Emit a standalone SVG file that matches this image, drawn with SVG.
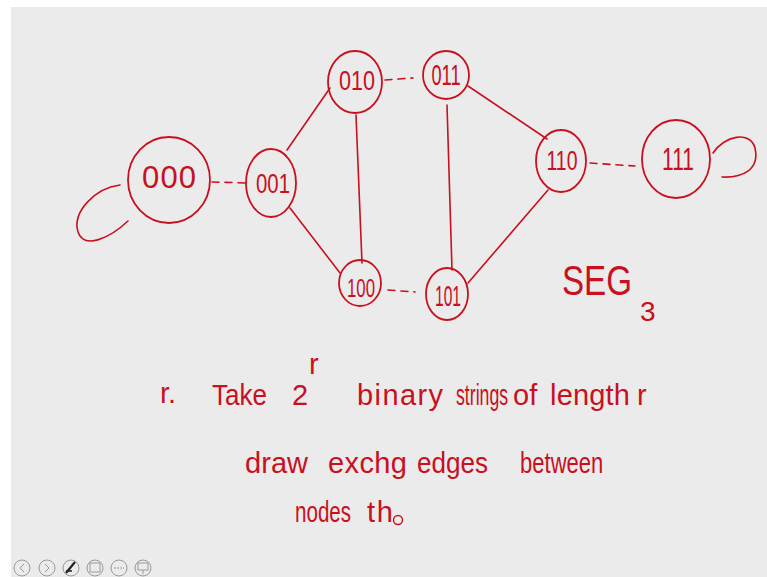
<svg xmlns="http://www.w3.org/2000/svg" width="767" height="577" viewBox="0 0 767 577">
<style>
.n{fill:none;stroke:#c8101e;stroke-width:1.8}
.e{fill:none;stroke:#c8101e;stroke-width:1.6;stroke-linecap:round}
.d{stroke-dasharray:7 6}
.t{fill:#c8101e;font-family:"Liberation Sans",Arial,sans-serif;font-weight:normal}
.w{fill:#c8101e;font-family:"Liberation Sans",Arial,sans-serif;font-size:29px}
.ic{fill:none;stroke:#9a9a9a;stroke-width:1}
</style>
<rect width="767" height="577" fill="#ffffff"/>
<rect x="11" y="7" width="756" height="570" fill="#ebebeb"/>
<g id="edges">
<path class="e d" d="M212,182 L247,183"/>
<path class="e" d="M287,150 L330,88"/>
<path class="e" d="M290,208 L340,273"/>
<path class="e" d="M356,115 L362,263"/>
<path class="e d" d="M385,80 L413,78"/>
<path class="e" d="M447,105 L452,270"/>
<path class="e" d="M468,86 L547,139"/>
<path class="e" d="M468,283 L548,190"/>
<path class="e d" d="M388,290 L415,292"/>
<path class="e d" d="M590,163 L635,166"/>
<path class="e" d="M120,185 C95,188 72,212 78,232 C84,250 110,238 128,221"/>
<path class="e" d="M713,153 C724,136 750,130 755,148 C760,170 742,178 722,177"/>
</g>
<g id="n000"><ellipse class="n" cx="169" cy="180" rx="41" ry="43"/><text class="t" x="169" y="188" font-size="31" text-anchor="middle" textLength="54" lengthAdjust="spacing">000</text></g>
<g id="n001"><ellipse class="n" cx="271" cy="183" rx="25" ry="34"/><text class="t" x="273" y="193" font-size="27" text-anchor="middle" textLength="34" lengthAdjust="spacingAndGlyphs">001</text></g>
<g id="n010"><ellipse class="n" cx="355" cy="82" rx="27" ry="31"/><text class="t" x="357" y="90" font-size="28" text-anchor="middle" textLength="36" lengthAdjust="spacingAndGlyphs">010</text></g>
<g id="n011"><ellipse class="n" cx="446" cy="75" rx="23" ry="24"/><text class="t" x="446" y="85" font-size="30" text-anchor="middle" textLength="29" lengthAdjust="spacingAndGlyphs">011</text></g>
<g id="n100"><ellipse class="n" cx="360" cy="283" rx="21" ry="23"/><text class="t" x="361" y="297" font-size="26" text-anchor="middle" textLength="28" lengthAdjust="spacingAndGlyphs">100</text></g>
<g id="n101"><ellipse class="n" cx="447" cy="294" rx="21" ry="26"/><text class="t" x="448" y="306" font-size="30" text-anchor="middle" textLength="26" lengthAdjust="spacingAndGlyphs">101</text></g>
<g id="n110"><ellipse class="n" cx="561" cy="161" rx="25" ry="31"/><text class="t" x="562" y="170" font-size="27" text-anchor="middle" textLength="31" lengthAdjust="spacingAndGlyphs">110</text></g>
<g id="n111"><ellipse class="n" cx="676" cy="159" rx="34" ry="39"/><text class="t" x="678" y="170" font-size="32" text-anchor="middle" textLength="32" lengthAdjust="spacingAndGlyphs">111</text></g>
<g id="label">
<text class="t" transform="translate(562,295) scale(0.79,1)" font-size="42">SEG</text>
<text class="t" x="640" y="321" font-size="28">3</text>
</g>
<g id="notes">
<text class="w" x="160" y="403">r.</text>
<text class="w" transform="translate(212,405) scale(0.9,1)">Take</text>
<text class="w" x="292" y="405" font-size="25">2</text>
<text class="w" x="309" y="374" font-size="20">r</text>
<text class="w" x="357" y="405" textLength="86" lengthAdjust="spacing">binary</text>
<text class="w" transform="translate(456,405) scale(0.61,1)">strings</text>
<text class="w" x="513" y="405">of</text>
<text class="w" x="550" y="405" textLength="80" lengthAdjust="spacing">length</text>
<text class="w" x="637" y="405">r</text>
<text class="w" x="245" y="473" textLength="63" lengthAdjust="spacing">draw</text>
<text class="w" x="328" y="473" textLength="79" lengthAdjust="spacing">exchg</text>
<text class="w" transform="translate(417,473) scale(0.9,1)">edges</text>
<text class="w" transform="translate(520,473) scale(0.76,1)">between</text>
<text class="w" transform="translate(295,522) scale(0.71,1)">nodes</text>
<text class="w" x="367" y="522" textLength="26" lengthAdjust="spacing">th</text>
<circle cx="398" cy="520" r="4.5" fill="none" stroke="#c8101e" stroke-width="1.4"/>
</g>
<g id="toolbar">
<circle class="ic" cx="22" cy="568" r="8"/><path class="ic" d="M24,564 L20,568 L24,572"/>
<circle class="ic" cx="47" cy="568" r="8"/><path class="ic" d="M45,564 L49,568 L45,572"/>
<circle class="ic" cx="71" cy="568" r="8"/><path d="M66,573 L75,562" stroke="#222" stroke-width="2.2"/><path d="M66,571 L72,571" stroke="#222" stroke-width="1.5"/>
<circle class="ic" cx="95" cy="568" r="8"/><rect class="ic" x="90" y="563" width="10" height="9"/>
<circle class="ic" cx="119" cy="568" r="8"/><path class="ic" d="M114,568 L124,568" stroke-dasharray="2 1"/>
<circle class="ic" cx="143" cy="568" r="8"/><rect class="ic" x="138" y="563" width="10" height="7"/><path class="ic" d="M143,570 L143,574"/>
</g>
</svg>
